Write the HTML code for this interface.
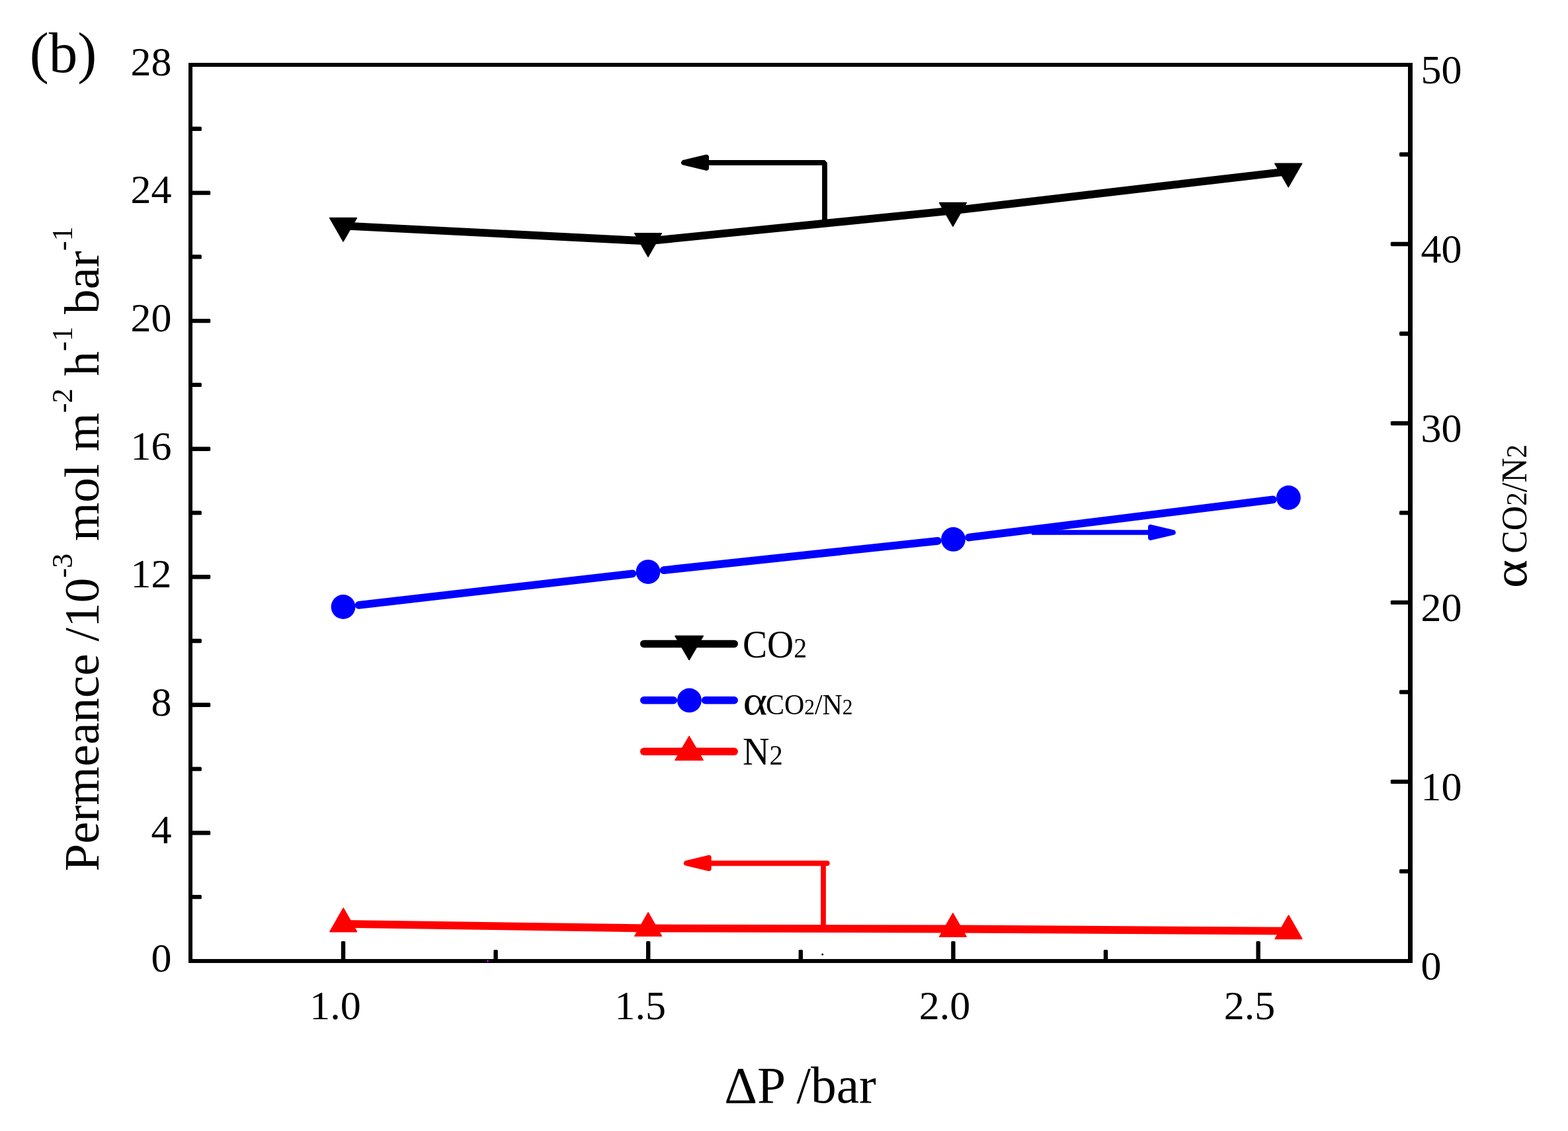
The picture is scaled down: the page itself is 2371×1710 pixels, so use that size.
<!DOCTYPE html>
<html lang="en"><head><meta charset="utf-8"><title>Permeance vs pressure (b)</title>
<style>html,body{margin:0;padding:0;background:#fff;}body{width:2371px;height:1710px;overflow:hidden;}svg{display:block;}text{font-family:"Liberation Serif", "DejaVu Serif", serif;fill:#000;}</style>
</head><body>
<svg width="2371" height="1710" viewBox="0 0 2371 1710" role="img" aria-label="Permeance and selectivity versus pressure difference">
<rect x="0" y="0" width="2371" height="1710" fill="#fff"/>
<g fill="#000">
<rect x="287.0" y="1352.9" width="17.9" height="6.4" rx="1.6"/>
<rect x="287.0" y="1256.1" width="31.2" height="6.4" rx="1.6"/>
<rect x="287.0" y="1159.4" width="17.9" height="6.4" rx="1.6"/>
<rect x="287.0" y="1062.6" width="31.2" height="6.4" rx="1.6"/>
<rect x="287.0" y="965.8" width="17.9" height="6.4" rx="1.6"/>
<rect x="287.0" y="869.0" width="31.2" height="6.4" rx="1.6"/>
<rect x="287.0" y="772.2" width="17.9" height="6.4" rx="1.6"/>
<rect x="287.0" y="675.5" width="31.2" height="6.4" rx="1.6"/>
<rect x="287.0" y="578.7" width="17.9" height="6.4" rx="1.6"/>
<rect x="287.0" y="481.9" width="31.2" height="6.4" rx="1.6"/>
<rect x="287.0" y="385.1" width="17.9" height="6.4" rx="1.6"/>
<rect x="287.0" y="288.4" width="31.2" height="6.4" rx="1.6"/>
<rect x="287.0" y="191.6" width="17.9" height="6.4" rx="1.6"/>
<rect x="2116.0" y="1314.2" width="17.0" height="6.4" rx="1.6"/>
<rect x="2102.8" y="1178.7" width="30.2" height="6.4" rx="1.6"/>
<rect x="2116.0" y="1043.2" width="17.0" height="6.4" rx="1.6"/>
<rect x="2102.8" y="907.7" width="30.2" height="6.4" rx="1.6"/>
<rect x="2116.0" y="772.2" width="17.0" height="6.4" rx="1.6"/>
<rect x="2102.8" y="636.8" width="30.2" height="6.4" rx="1.6"/>
<rect x="2116.0" y="501.3" width="17.0" height="6.4" rx="1.6"/>
<rect x="2102.8" y="365.8" width="30.2" height="6.4" rx="1.6"/>
<rect x="2116.0" y="230.3" width="17.0" height="6.4" rx="1.6"/>
<rect x="515.8" y="1423.0" width="6.4" height="31.0" rx="1.6"/>
<rect x="746.4" y="1436.0" width="6.4" height="18.0" rx="1.6"/>
<rect x="977.0" y="1423.0" width="6.4" height="31.0" rx="1.6"/>
<rect x="1207.6" y="1436.0" width="6.4" height="18.0" rx="1.6"/>
<rect x="1438.2" y="1423.0" width="6.4" height="31.0" rx="1.6"/>
<rect x="1668.8" y="1436.0" width="6.4" height="18.0" rx="1.6"/>
<rect x="1899.4" y="1423.0" width="6.4" height="31.0" rx="1.6"/>
<rect x="285" y="95" width="6" height="1361"/>
<rect x="2129" y="95" width="7" height="1361"/>
<rect x="285" y="95" width="1851" height="6"/>
<rect x="285" y="1450" width="1851" height="6"/>
</g>
<circle cx="737.5" cy="1453.1" r="1.4" fill="#ff00ff"/>
<circle cx="1243.7" cy="1443.0" r="1.5" fill="#000"/>
<polyline points="519.0,341.3 980.0,364.5 1440.9,318.4 1948.2,259.1" fill="none" stroke="#000000" stroke-width="11.8" stroke-linejoin="round" stroke-linecap="butt"/>
<polygon points="498.7,329.5 539.3,329.5 519.0,364.9" fill="#000000" stroke="#000000" stroke-width="1.6" stroke-linejoin="round"/>
<polygon points="959.7,352.7 1000.3,352.7 980.0,388.1" fill="#000000" stroke="#000000" stroke-width="1.6" stroke-linejoin="round"/>
<polygon points="1420.6,306.6 1461.2,306.6 1440.9,342.0" fill="#000000" stroke="#000000" stroke-width="1.6" stroke-linejoin="round"/>
<polygon points="1927.9,247.3 1968.5,247.3 1948.2,282.7" fill="#000000" stroke="#000000" stroke-width="1.6" stroke-linejoin="round"/>
<polyline points="1072,246 1247,246 1247,333" fill="none" stroke="#000000" stroke-width="7.8" stroke-linejoin="bevel"/>
<polygon points="1033.8,245.8 1068.2,237.5 1068.2,254.1" fill="#000000" stroke="#000000" stroke-width="7.6" stroke-linejoin="round"/>
<polyline points="519.2,1396.8 980.1,1403.5 1440.9,1404.5 1948.5,1407.6" fill="none" stroke="#ff0000" stroke-width="11.8" stroke-linejoin="round" stroke-linecap="butt"/>
<polygon points="498.9,1408.6 539.5,1408.6 519.2,1373.2" fill="#ff0000" stroke="#ff0000" stroke-width="1.6" stroke-linejoin="round"/>
<polygon points="959.8,1415.3 1000.4,1415.3 980.1,1379.9" fill="#ff0000" stroke="#ff0000" stroke-width="1.6" stroke-linejoin="round"/>
<polygon points="1420.6,1416.3 1461.2,1416.3 1440.9,1380.9" fill="#ff0000" stroke="#ff0000" stroke-width="1.6" stroke-linejoin="round"/>
<polygon points="1928.2,1419.4 1968.8,1419.4 1948.5,1384.0" fill="#ff0000" stroke="#ff0000" stroke-width="1.6" stroke-linejoin="round"/>
<line x1="1075" y1="1305.2" x2="1250.6" y2="1305.2" stroke="#ff0000" stroke-width="8" stroke-linecap="round"/>
<line x1="1245" y1="1305.2" x2="1245" y2="1402" stroke="#ff0000" stroke-width="7.7"/>
<polygon points="1037.7,1305.0 1071.9,1296.7 1071.9,1313.3" fill="#ff0000" stroke="#ff0000" stroke-width="7.6" stroke-linejoin="round"/>
<line x1="542.6" y1="914.8" x2="956.4" y2="867.3" stroke="#0000ff" stroke-width="11.8" stroke-linecap="round"/>
<line x1="1003.6" y1="862.1" x2="1417.9" y2="817.9" stroke="#0000ff" stroke-width="11.8" stroke-linecap="round"/>
<line x1="1465.1" y1="812.5" x2="1924.8" y2="755.4" stroke="#0000ff" stroke-width="11.8" stroke-linecap="round"/>
<circle cx="519.0" cy="917.5" r="18.4" fill="#0000ff"/>
<circle cx="980.0" cy="864.6" r="18.4" fill="#0000ff"/>
<circle cx="1441.5" cy="815.4" r="18.4" fill="#0000ff"/>
<circle cx="1948.4" cy="752.5" r="18.4" fill="#0000ff"/>
<line x1="1560" y1="805" x2="1737" y2="805" stroke="#0000ff" stroke-width="7.4" stroke-linecap="butt"/>
<polygon points="1774.0,805.0 1739.8,796.9 1739.8,813.1" fill="#0000ff" stroke="#0000ff" stroke-width="7.6" stroke-linejoin="round"/>
<line x1="973.7" y1="973.4" x2="1110.2" y2="973.4" stroke="#000000" stroke-width="11.5" stroke-linecap="round"/>
<polygon points="1021.0,961.6 1063.2,961.6 1042.1,997.6" fill="#000000" stroke="#000000" stroke-width="1.6" stroke-linejoin="round"/>
<line x1="973.7" y1="1058.7" x2="1018.4" y2="1058.7" stroke="#0000ff" stroke-width="11.5" stroke-linecap="round"/>
<line x1="1066.5" y1="1058.7" x2="1110.2" y2="1058.7" stroke="#0000ff" stroke-width="11.5" stroke-linecap="round"/>
<circle cx="1042.4" cy="1058.9" r="18.4" fill="#0000ff"/>
<line x1="973.7" y1="1136.3" x2="1110.2" y2="1136.3" stroke="#ff0000" stroke-width="11.5" stroke-linecap="round"/>
<polygon points="1021.0,1149.3 1063.2,1149.3 1042.1,1113.3" fill="#ff0000" stroke="#ff0000" stroke-width="1.6" stroke-linejoin="round"/>
<text x="259.5" y="1468.7" font-size="62.0" text-anchor="end">0</text>
<text x="259.5" y="1275.1" font-size="62.0" text-anchor="end">4</text>
<text x="259.5" y="1081.6" font-size="62.0" text-anchor="end">8</text>
<text x="259.5" y="888.0" font-size="62.0" text-anchor="end">12</text>
<text x="259.5" y="694.5" font-size="62.0" text-anchor="end">16</text>
<text x="259.5" y="500.9" font-size="62.0" text-anchor="end">20</text>
<text x="259.5" y="307.4" font-size="62.0" text-anchor="end">24</text>
<text x="259.5" y="113.8" font-size="62.0" text-anchor="end">28</text>
<text x="2148.6" y="1480.9" font-size="62.0" text-anchor="start">0</text>
<text x="2148.6" y="1209.9" font-size="62.0" text-anchor="start">10</text>
<text x="2148.6" y="938.9" font-size="62.0" text-anchor="start">20</text>
<text x="2148.6" y="668.0" font-size="62.0" text-anchor="start">30</text>
<text x="2148.6" y="397.0" font-size="62.0" text-anchor="start">40</text>
<text x="2148.6" y="126.0" font-size="62.0" text-anchor="start">50</text>
<text x="507.0" y="1541.2" font-size="62.0" text-anchor="middle">1.0</text>
<text x="968.2" y="1541.2" font-size="62.0" text-anchor="middle">1.5</text>
<text x="1428.4" y="1541.2" font-size="62.0" text-anchor="middle">2.0</text>
<text x="1889.6" y="1541.2" font-size="62.0" text-anchor="middle">2.5</text>
<g transform="translate(44.63,108.64) scale(1.0064,0.9898)"><text font-size="86.7">(b)</text></g>
<g transform="translate(1095.18,1666.64) scale(1.0056,1.0120)"><text font-size="77">ΔP /bar</text></g>
<g transform="translate(149.3,1317.4) rotate(-90)"><text xml:space="preserve" font-size="75">Permeance /10<tspan font-size="44.5" dy="-40.5">-3</tspan><tspan dy="40.5"> mol m</tspan><tspan font-size="44.5" dy="-40.5">-2</tspan><tspan dy="40.5"> h</tspan><tspan font-size="44.5" dy="-40.5">-1</tspan><tspan dy="40.5"> bar</tspan><tspan font-size="44.5" dy="-40.5">-1</tspan></text></g>
<g transform="translate(2307.56,889.34) rotate(-90) scale(1.1429,0.9928)"><text font-size="72">α</text></g>
<g transform="translate(2307.78,836.80) rotate(-90) scale(0.9780,1.0338)"><text font-size="53">CO<tspan font-size="42">2</tspan>/N<tspan font-size="42">2</tspan></text></g>
<g transform="translate(1123.11,994.39) scale(0.9565,1.0219)"><text font-size="58">CO<tspan font-size="41.5">2</tspan></text></g>
<g transform="translate(1123.46,1079.99) scale(1.1748,1.0122)"><text font-size="60">α</text></g>
<g transform="translate(1157.93,1079.79) scale(0.9532,1.0203)"><text font-size="44"><tspan>CO</tspan><tspan font-size="33">2</tspan>/N<tspan font-size="33">2</tspan></text></g>
<g transform="translate(1123.11,1156.30) scale(0.9668,1.0040)"><text font-size="58">N<tspan font-size="42">2</tspan></text></g>
</svg>
</body></html>
